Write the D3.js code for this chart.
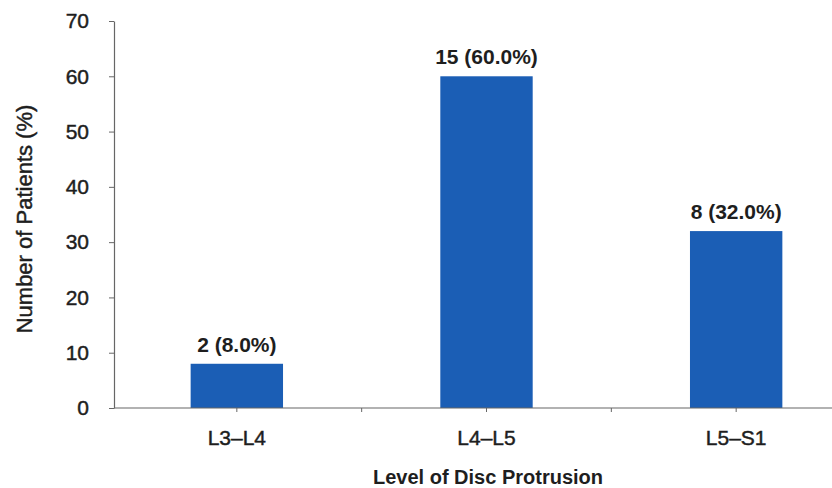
<!DOCTYPE html>
<html>
<head>
<meta charset="utf-8">
<script src="https://cdn.jsdelivr.net/npm/d3@7"></script>
<style>
  html, body { margin: 0; padding: 0; background: #fff; }
  svg { display: block; }
  text { font-family: "Liberation Sans", Arial, sans-serif; fill: #1e1e1e; }
  .heavy { stroke: #1e1e1e; stroke-width: 0.45px; }
</style>
</head>
<body>
<script>
// Disc protrusion level distribution
const categories = ["L3\u2013L4", "L4\u2013L5", "L5\u2013S1"];
const patientCounts = [2, 15, 8];
const patientPercents = [8.0, 60.0, 32.0];
const yTicks = [0, 10, 20, 30, 40, 50, 60, 70];

const W = 832, H = 488;
const svg = d3.select("body").append("svg").attr("width", W).attr("height", H);

const axisX = 114, baseY = 408, topY = 21;

const y = d3.scaleLinear().domain([0, 70]).range([baseY, topY]);
const x = d3.scaleBand().domain(categories).range([112, 861])
  .paddingInner(0.63).paddingOuter(0.315);

// bars
svg.append("g").selectAll("rect")
  .data(categories)
  .join("rect")
  .attr("x", d => x(d))
  .attr("width", x.bandwidth())
  .attr("y", (d, i) => y(patientPercents[i]))
  .attr("height", (d, i) => y(0) - y(patientPercents[i]))
  .attr("fill", "#1b5eb5");

// value labels
svg.append("g").selectAll("text")
  .data(categories)
  .join("text")
  .attr("x", d => x(d) + x.bandwidth() / 2)
  .attr("y", (d, i) => y(patientPercents[i]) - 12)
  .attr("text-anchor", "middle")
  .attr("font-size", 21)
  .attr("font-weight", "bold")
  .text((d, i) => `${patientCounts[i]} (${patientPercents[i].toFixed(1)}%)`);

// y axis
const yAxis = svg.append("g")
  .attr("transform", `translate(${axisX},0)`)
  .call(d3.axisLeft(y).tickValues(yTicks).tickSize(5).tickSizeOuter(0).tickPadding(20));
yAxis.select(".domain").attr("stroke", "#666").attr("stroke-width", 1.2);
yAxis.selectAll(".tick line").attr("stroke", "#666");
yAxis.selectAll(".tick text")
  .attr("class", "heavy")
  .attr("font-size", 21)
  .attr("font-family", "Liberation Sans, Arial, sans-serif")
  .attr("fill", "#1e1e1e");

// x axis line with ticks at category centres and boundaries
const xg = svg.append("g");
xg.append("line")
  .attr("x1", axisX).attr("x2", W)
  .attr("y1", baseY).attr("y2", baseY)
  .attr("stroke", "#666").attr("stroke-width", 1.2);
const step = x.step();
const tickPos = [];
categories.forEach((c, i) => {
  const cx = x(c) + x.bandwidth() / 2;
  tickPos.push(cx);
  if (i < categories.length - 1) tickPos.push(cx + step / 2);
});
xg.selectAll("line.tk")
  .data(tickPos)
  .join("line")
  .attr("class", "tk")
  .attr("x1", d => d).attr("x2", d => d)
  .attr("y1", baseY).attr("y2", baseY + 4)
  .attr("stroke", "#666");

// category labels
xg.selectAll("text")
  .data(categories)
  .join("text")
  .attr("class", "heavy")
  .attr("x", d => x(d) + x.bandwidth() / 2)
  .attr("y", 445)
  .attr("text-anchor", "middle")
  .attr("font-size", 21)
  .text(d => d);

// axis titles
svg.append("text")
  .attr("x", 488)
  .attr("y", 484)
  .attr("text-anchor", "middle")
  .attr("font-size", 20)
  .attr("font-weight", "bold")
  .text("Level of Disc Protrusion");

svg.append("text")
  .attr("class", "heavy")
  .attr("transform", "translate(32,219) rotate(-90)")
  .attr("text-anchor", "middle")
  .attr("font-size", 22)
  .text("Number of Patients (%)");
</script>
</body>
</html>
